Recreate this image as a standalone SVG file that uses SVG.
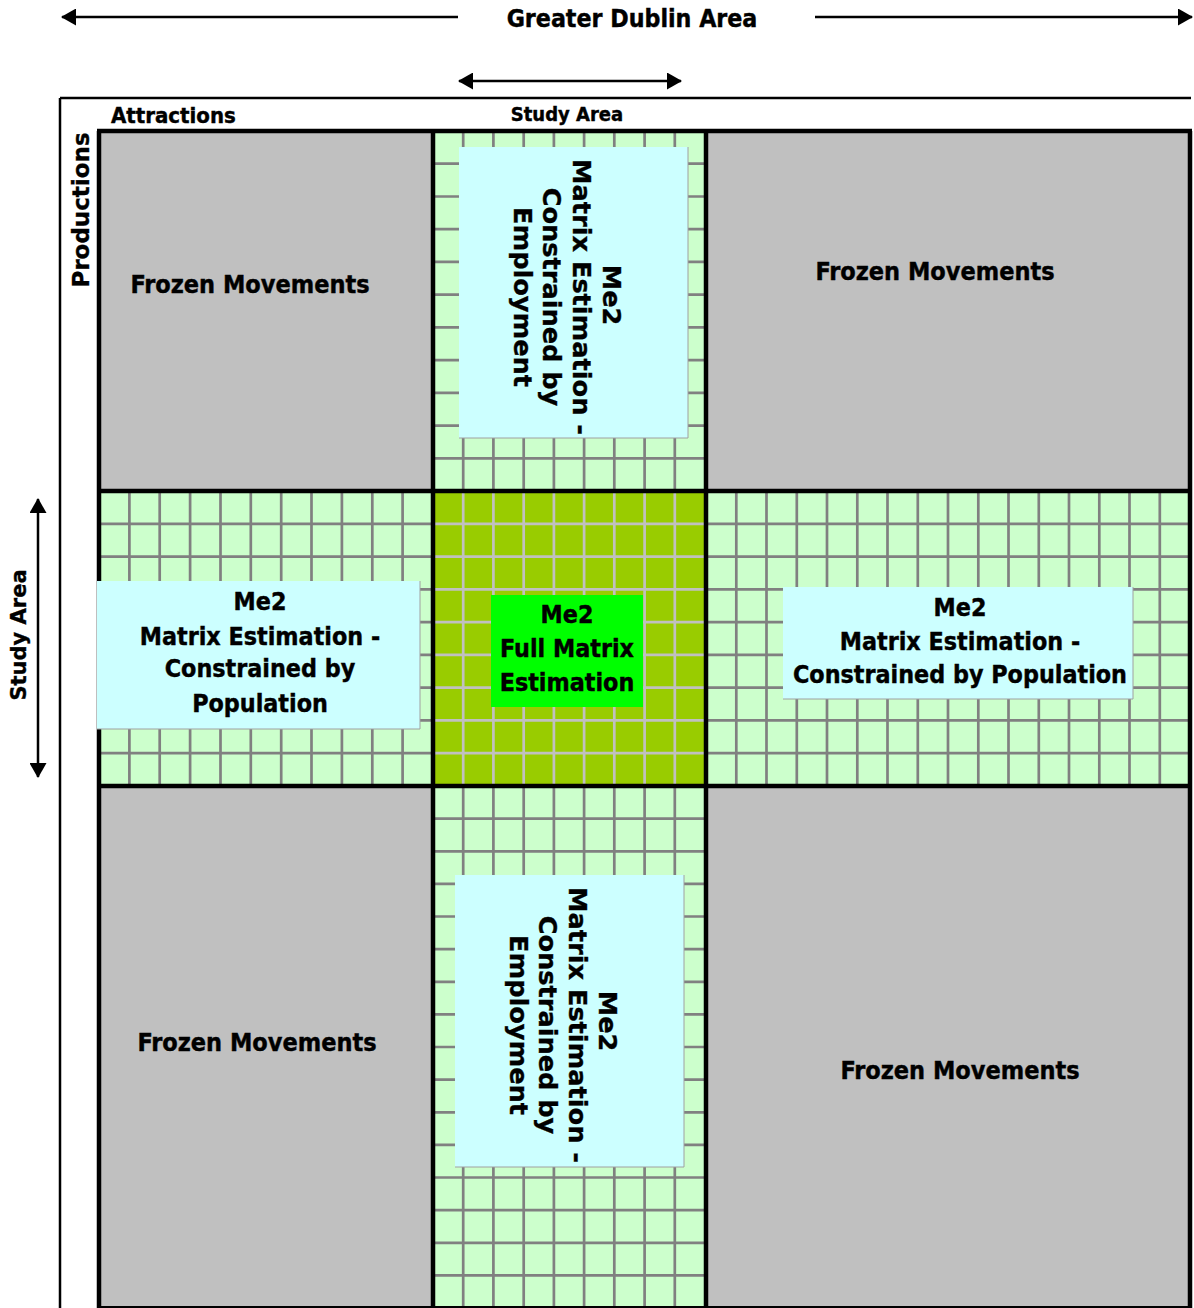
<svg xmlns="http://www.w3.org/2000/svg" width="1194" height="1308" viewBox="0 0 1194 1308">
<defs>
<marker id="ah" viewBox="0 0 15 17" refX="14" refY="8.5" markerWidth="15" markerHeight="17" markerUnits="userSpaceOnUse" orient="auto-start-reverse">
<path d="M0,0 L15,8.5 L0,17 Z" fill="#000"/>
</marker>
<style>
.g{stroke:#808080;stroke-width:2.7;fill:none}
.gl{stroke:#C0C0C0;stroke-width:2.7;fill:none}
.thick{stroke:#000;stroke-width:4.5;fill:none}
.arr{stroke:#000;stroke-width:2.5;fill:none}
.t{font-family:"DejaVu Sans Condensed","DejaVu Sans",sans-serif;font-weight:bold;fill:#000;stroke:#000;stroke-width:0.4;text-anchor:middle}
.r{font-family:"DejaVu Sans",sans-serif;font-weight:bold;fill:#000;stroke:#000;stroke-width:0.35;text-anchor:middle}
.cy{fill:#CCFFFF}
.sh{stroke:#A0A0A0;stroke-width:1;fill:none}
.frz{font-size:25px}
.bx{font-size:24.8px}
.rb{font-size:25.6px}
</style>
</defs>
<rect x="0" y="0" width="1194" height="1308" fill="#fff"/>

<g id="matrix-background">
<rect x="99" y="131" width="1091" height="1177" fill="#CCFFCC"/>
<path class="g" d="M129.4,131V1308M159.7,131V1308M190.1,131V1308M220.5,131V1308M250.8,131V1308M281.2,131V1308M311.5,131V1308M341.9,131V1308M372.3,131V1308M402.6,131V1308M463.2,131V1308M493.4,131V1308M523.7,131V1308M553.9,131V1308M584.1,131V1308M614.3,131V1308M644.6,131V1308M674.8,131V1308M736.3,131V1308M766.5,131V1308M796.8,131V1308M827,131V1308M857.3,131V1308M887.5,131V1308M917.8,131V1308M948,131V1308M978.3,131V1308M1008.5,131V1308M1038.8,131V1308M1069,131V1308M1099.3,131V1308M1129.5,131V1308M1159.8,131V1308"/>
<path class="g" d="M99,163.7H1190M99,196.5H1190M99,229.2H1190M99,261.9H1190M99,294.6H1190M99,327.4H1190M99,360.1H1190M99,392.8H1190M99,425.6H1190M99,458.3H1190M99,523.8H1190M99,556.6H1190M99,589.3H1190M99,622.1H1190M99,654.9H1190M99,687.7H1190M99,720.4H1190M99,753.2H1190M99,818.6H1190M99,851.3H1190M99,883.9H1190M99,916.5H1190M99,949.1H1190M99,981.8H1190M99,1014.4H1190M99,1047H1190M99,1079.7H1190M99,1112.3H1190M99,1144.9H1190M99,1177.5H1190M99,1210.2H1190M99,1242.8H1190M99,1275.4H1190"/>
</g>

<g id="frozen-top-left">
<rect x="99" y="131" width="334" height="360" fill="#C0C0C0"/>
<text class="t frz" x="250" y="293">Frozen Movements</text>
</g>
<g id="frozen-top-right">
<rect x="706" y="131" width="484" height="360" fill="#C0C0C0"/>
<text class="t frz" x="935" y="280">Frozen Movements</text>
</g>
<g id="frozen-bottom-left">
<rect x="99" y="786" width="334" height="522" fill="#C0C0C0"/>
<text class="t frz" x="257" y="1051">Frozen Movements</text>
</g>
<g id="frozen-bottom-right">
<rect x="706" y="786" width="484" height="522" fill="#C0C0C0"/>
<text class="t frz" x="960" y="1079">Frozen Movements</text>
</g>

<g id="center-cell">
<rect x="433" y="491" width="273" height="295" fill="#99CC00"/>
<path class="gl" d="M463.2,491V786M493.4,491V786M523.7,491V786M553.9,491V786M584.1,491V786M614.3,491V786M644.6,491V786M674.8,491V786M433,523.8H706M433,556.6H706M433,589.3H706M433,622.1H706M433,654.9H706M433,687.7H706M433,720.4H706M433,753.2H706"/>
</g>

<g id="grid-lines">
<path class="thick" d="M99,131V1308M433,131V1308M706,131V1308M1190,131V1308M97,131H1192M97,491H1192M97,786H1192"/>
<path d="M97,1307H1192" stroke="#000" stroke-width="2"/>
<path d="M60,98H1191M60,98V1308" stroke="#000" stroke-width="2.5" fill="none"/>
</g>

<g id="box-top-center">
<rect class="cy" x="459" y="147" width="229" height="291"/>
<path class="sh" d="M688,147V438H459"/>
<g transform="translate(603,295) rotate(90)"><text class="r rb" x="0" y="0">Me2</text></g>
<g transform="translate(573,297) rotate(90)"><text class="r rb" x="0" y="0">Matrix Estimation -</text></g>
<g transform="translate(543,297) rotate(90)"><text class="r rb" x="0" y="0">Constrained by</text></g>
<g transform="translate(514,297) rotate(90)"><text class="r rb" x="0" y="0">Employment</text></g>
</g>

<g id="box-bottom-center">
<rect class="cy" x="455" y="875" width="229" height="292"/>
<path class="sh" d="M684,875V1167H455"/>
<g transform="translate(599,1021) rotate(90)"><text class="r rb" x="0" y="0">Me2</text></g>
<g transform="translate(569,1025) rotate(90)"><text class="r rb" x="0" y="0">Matrix Estimation -</text></g>
<g transform="translate(539,1025) rotate(90)"><text class="r rb" x="0" y="0">Constrained by</text></g>
<g transform="translate(510,1025) rotate(90)"><text class="r rb" x="0" y="0">Employment</text></g>
</g>

<g id="box-left">
<rect class="cy" x="97" y="581" width="323" height="148"/>
<path class="sh" d="M420,581V729H97"/>
<text class="t bx" x="260" y="610">Me2</text>
<text class="t bx" x="260" y="645">Matrix Estimation -</text>
<text class="t bx" x="260" y="677">Constrained by</text>
<text class="t bx" x="260" y="712">Population</text>
</g>

<g id="box-right">
<rect class="cy" x="783" y="587" width="350" height="112"/>
<path class="sh" d="M1133,587V699H783"/>
<text class="t bx" x="960" y="616">Me2</text>
<text class="t bx" x="960" y="650">Matrix Estimation -</text>
<text class="t bx" x="960" y="683">Constrained by Population</text>
</g>

<g id="box-center">
<rect x="491" y="595" width="152" height="112" fill="#00FF00"/>
<text class="t bx" x="567" y="623">Me2</text>
<text class="t bx" x="567" y="657">Full Matrix</text>
<text class="t bx" x="567" y="691">Estimation</text>
</g>

<g id="labels">
<text class="t" x="632" y="27" style="font-size:24.7px">Greater Dublin Area</text>
<text class="t" x="111" y="123" style="font-size:22px;text-anchor:start">Attractions</text>
<text class="t" x="567" y="121" style="font-size:20px">Study Area</text>
<g transform="translate(89,210) rotate(-90)"><text class="r" x="0" y="0" style="font-size:23px">Productions</text></g>
<g transform="translate(26,635) rotate(-90)"><text class="r" x="0" y="0" style="font-size:21px">Study Area</text></g>
</g>

<g id="connectors">
<line class="arr" x1="458" y1="17" x2="62" y2="17" marker-end="url(#ah)"/>
<line class="arr" x1="815" y1="17" x2="1192" y2="17" marker-end="url(#ah)"/>
<line class="arr" x1="459" y1="81" x2="681" y2="81" marker-start="url(#ah)" marker-end="url(#ah)"/>
<line class="arr" x1="38" y1="499" x2="38" y2="777" marker-start="url(#ah)" marker-end="url(#ah)"/>
</g>
</svg>
